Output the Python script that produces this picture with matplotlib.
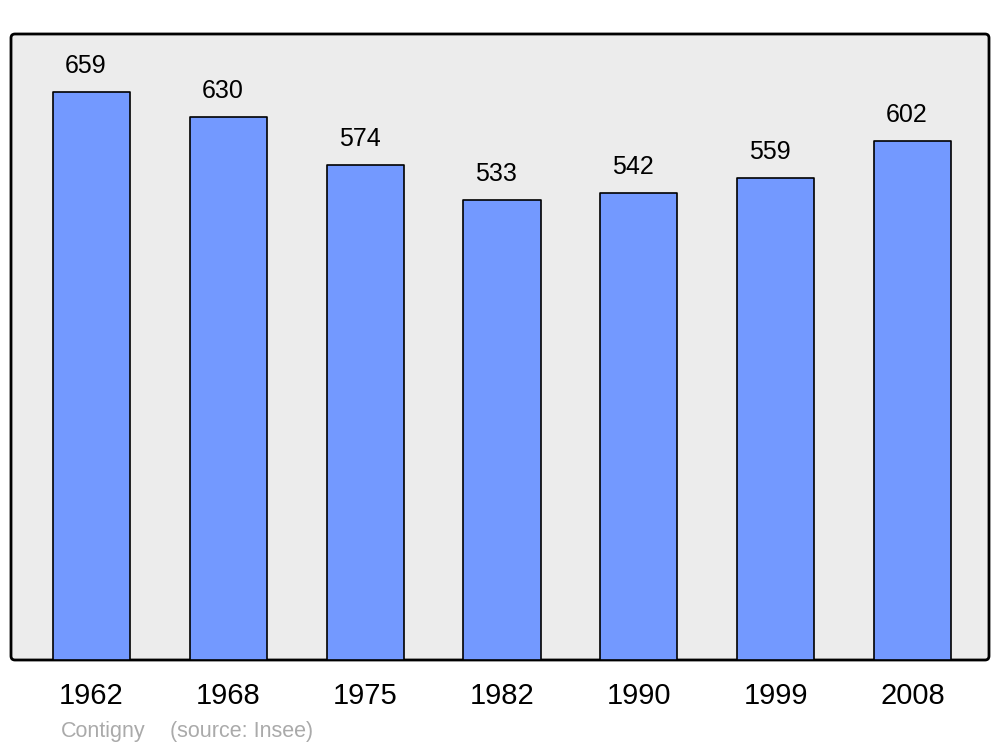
import matplotlib.pyplot as plt
from matplotlib.patches import FancyBboxPatch
import numpy as np

plt.rcParams['font.family'] = ['Liberation Sans', 'DejaVu Sans']

years = ["1962", "1968", "1975", "1982", "1990", "1999", "2008"]
population = [659, 630, 574, 533, 542, 559, 602]

fig = plt.figure(figsize=(10, 7.47), dpi=100)
ax = fig.add_axes([11 / 1000, 87 / 747, 978 / 1000, 626 / 747])
ax.set_facecolor("none")

# rounded grey frame behind the bars (inches)
frame = FancyBboxPatch((0.11, 0.87), 9.78, 6.26,
                       boxstyle="round,pad=0,rounding_size=0.04",
                       transform=fig.dpi_scale_trans,
                       facecolor="#ececec", edgecolor="black",
                       linewidth=2.0, zorder=0, clip_on=False)
ax.add_patch(frame)

x = np.arange(len(years))
bars = ax.bar(x, population, width=0.563, color="#7399ff",
              edgecolor="black", linewidth=1.2, zorder=2)
for b in bars:
    b.set_joinstyle("round")

# value labels sit a little left of the bar centre, like the original
for xi, v in zip(x, population):
    ax.annotate(str(v), (xi, v), xytext=(-4, 13.7), textcoords="offset points",
                ha="center", va="baseline", fontsize=18)

ax.set_xlim(-0.588, 6.559)
ax.set_ylim(0, 726)
ax.set_xticks(x)
ax.set_xticklabels(years, fontsize=21)
ax.tick_params(axis="x", length=0, pad=16)
ax.set_yticks([])
for s in ax.spines.values():
    s.set_visible(False)

fig.text(61 / 1000, 1 - 737 / 747, "Contigny", fontsize=15.5, color="#aaaaaa",
         va="baseline")
fig.text(170 / 1000, 1 - 737 / 747, "(source: Insee)", fontsize=15.5,
         color="#aaaaaa", va="baseline")

fig.savefig("out.png", dpi=100)
